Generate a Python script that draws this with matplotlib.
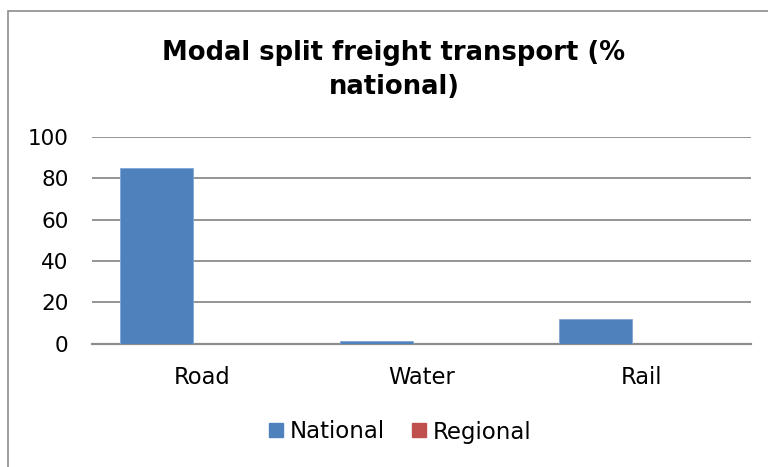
import matplotlib.pyplot as plt
from matplotlib.patches import Rectangle
from matplotlib.lines import Line2D
import numpy as np

# datos
categories = ['Road', 'Water', 'Rail']
national = [85, 1, 12]
regional = [0, 0, 0]
yticks = [0, 20, 40, 60, 80, 100]

plt.rcParams['font.family'] = ['DejaVu Sans']

fig = plt.figure(figsize=(7.68, 4.67), dpi=100)
ax = fig.add_axes([92 / 768, 1 - 343.5 / 467, (751 - 92) / 768, (343.5 - 137) / 467])

x = np.arange(len(categories))
w = 0.332
ax.bar(x - 0.206, national, width=w, color='#4F81BD', edgecolor='#7FA6D6', linewidth=0.6, zorder=3)
ax.bar(x + 0.206, regional, width=w, color='#C0504D', zorder=3)

ax.set_xlim(-0.5, 2.5)
ax.set_ylim(0, 100)
ax.set_yticks(yticks)
ax.set_yticklabels([str(v) for v in yticks], fontsize=15.5)
ax.set_xticks(x)
ax.set_xticklabels(categories, fontsize=16.3)
ax.tick_params(axis='y', length=0, pad=17)
ax.tick_params(axis='x', length=0, pad=16)
ax.grid(axis='y', color='#8C8C8C', linewidth=1.3, zorder=0)
for s in ['left', 'right', 'top']:
    ax.spines[s].set_visible(False)
ax.spines['bottom'].set_color('#8C8C8C')
ax.spines['bottom'].set_linewidth(1.6)

fig.text(394 / 768, 1 - 70 / 467, 'Modal split freight transport (%\nnational)',
         ha='center', va='center', fontsize=18.6, fontweight='bold', linespacing=1.35)

handles = [Line2D([], [], marker='s', linestyle='', color='#4F81BD', markersize=10),
           Line2D([], [], marker='s', linestyle='', color='#C0504D', markersize=10)]
fig.legend(handles, ['National', 'Regional'], loc='center', bbox_to_anchor=(398 / 768, 1 - 432 / 467),
           ncol=2, frameon=False, fontsize=16.5, handletextpad=0.1, columnspacing=0.95,
           handlelength=1, borderpad=0)

# borde del area del grafico
fig.patches.append(Rectangle((7.5 / 768, -0.1), 1.1, 1 - 10.5 / 467 + 0.1, transform=fig.transFigure,
                             fill=False, edgecolor='#8C8C8C', linewidth=1.2))

fig.savefig('out.png', dpi=100)
